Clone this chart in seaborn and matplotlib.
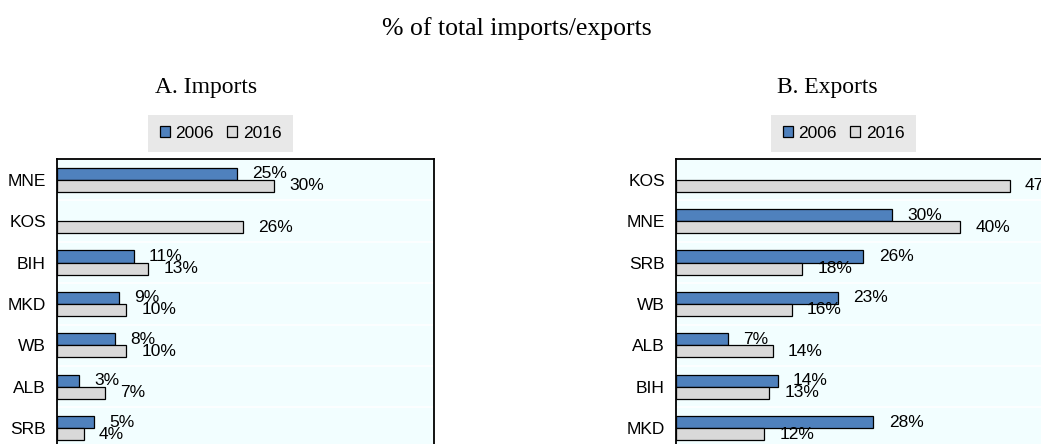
import numpy as np
import pandas as pd
import matplotlib
matplotlib.use("Agg")
import matplotlib.pyplot as plt
from matplotlib.patches import Patch
import seaborn as sns

# data
years = ["2006", "2016"]
colors = {"2006": "#4F81BD", "2016": "#D9D9D9"}

imp_countries = ["MNE", "KOS", "BIH", "MKD", "WB", "ALB", "SRB"]
imp_2006 = [24.9, np.nan, 10.6, 8.6, 8.0, 3.1, 5.1]
imp_2016 = [30.0, 25.8, 12.6, 9.6, 9.6, 6.6, 3.7]

exp_countries = ["KOS", "MNE", "SRB", "WB", "ALB", "BIH", "MKD"]
exp_2006 = [np.nan, 30.4, 26.4, 22.8, 7.3, 14.3, 27.8]
exp_2016 = [47.0, 40.0, 17.8, 16.3, 13.6, 13.1, 12.4]


def long_df(countries, v06, v16):
    return pd.DataFrame({
        "country": countries * 2,
        "year": ["2006"] * len(countries) + ["2016"] * len(countries),
        "value": list(v06) + list(v16),
    })


sns.set_theme(style="white")
plt.rcParams["font.family"] = ["Liberation Sans", "DejaVu Sans"]
plt.rcParams["text.color"] = "black"
plt.rcParams["ytick.color"] = "black"
plt.rcParams["ytick.labelcolor"] = "black"

W, H = 1041, 444
fs = 12.5
fig = plt.figure(figsize=(W / 100, H / 100), dpi=100)

row_h = 41.4
top_px = 159
n_rows = 7
ax_h = n_rows * row_h

panels = [
    (imp_countries, imp_2006, imp_2016, 57, 434, 52.2),
    (exp_countries, exp_2006, exp_2016, 676, 1046, 52.1),
]

for countries, v06, v16, x0, x1, xmax in panels:
    ax = fig.add_axes([x0 / W, (H - top_px - ax_h) / H, (x1 - x0) / W, ax_h / H])
    df = long_df(countries, v06, v16)
    sns.barplot(data=df, x="value", y="country", hue="year", order=countries,
                hue_order=years, palette=colors, orient="h", width=0.58,
                errorbar=None, saturation=1, edgecolor="black", linewidth=0.9,
                legend=False, ax=ax)
    for c in ax.containers:
        ax.bar_label(c, fmt="{:.0f}%", padding=11, fontsize=fs, color="black")

    ax.set_facecolor("#F2FEFF")
    ax.set_xlim(0, xmax)
    ax.set_ylim(n_rows - 0.5, -0.5)
    ax.set_xlabel("")
    ax.set_ylabel("")
    ax.set_xticks([])
    ax.set_yticks(np.arange(0.5, n_rows, 1), minor=True)
    ax.tick_params(axis="y", which="major", length=0, labelsize=fs, pad=8)
    ax.tick_params(axis="y", which="minor", direction="in", length=4.5, width=1.5, color="black")
    ax.grid(False)
    ax.grid(True, axis="y", which="minor", color="white", linewidth=1.2)
    ax.set_axisbelow(True)
    for s in ax.spines.values():
        s.set_visible(True)
        s.set_color("black")
        s.set_linewidth(1.3)

# titles
fig.text(517 / W, 1 - 35 / H, "% of total imports/exports", ha="center", va="baseline",
         fontsize=18.5, family="Liberation Serif")
fig.text(206 / W, 1 - 93 / H, "A. Imports", ha="center", va="baseline",
         fontsize=17, family="Liberation Serif")
fig.text(827 / W, 1 - 93 / H, "B. Exports", ha="center", va="baseline",
         fontsize=17, family="Liberation Serif")

# legends
handles = [Patch(facecolor=colors[y], edgecolor="black", linewidth=0.9, label=y) for y in years]
for cx in (220.5, 843.5):
    leg = fig.legend(handles=handles, loc="center", bbox_to_anchor=(cx / W, 1 - 133.5 / H),
                     ncol=2, frameon=True, fancybox=False, fontsize=fs,
                     handlelength=0.58, handleheight=0.58, handletextpad=0.3,
                     columnspacing=0.8, borderpad=0.65)
    leg.get_frame().set_facecolor("#E8E8E8")
    leg.get_frame().set_edgecolor("none")
    leg.get_frame().set_alpha(1)

fig.savefig("out.png", dpi=100)
